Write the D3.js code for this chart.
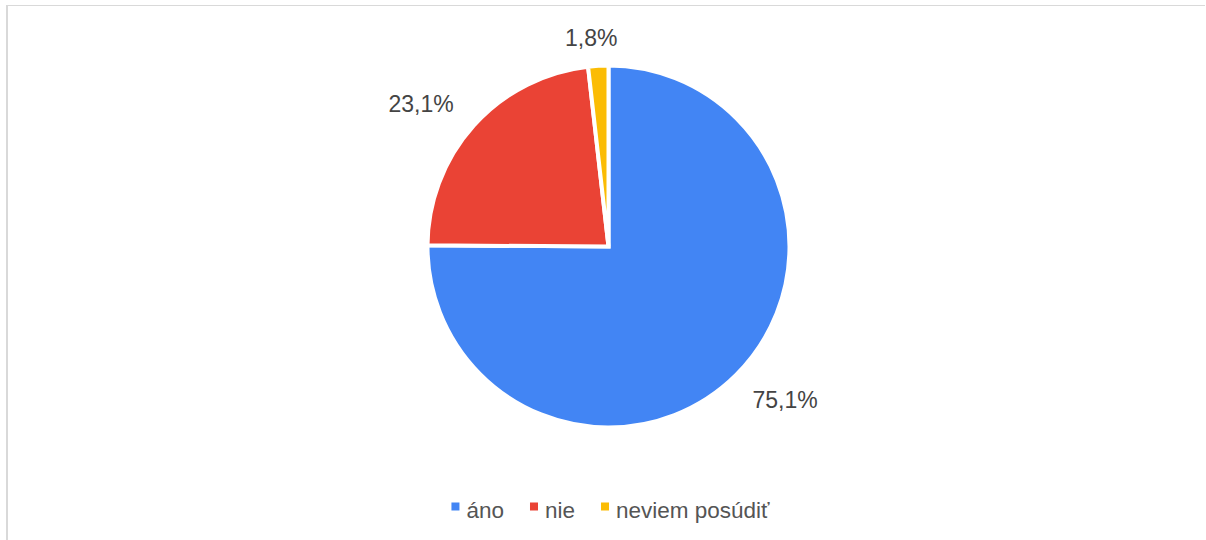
<!DOCTYPE html>
<html>
<head>
<meta charset="utf-8">
<script src="https://cdn.jsdelivr.net/npm/d3@7"></script>
<style>
  body { margin: 0; background: #fff; }
  svg { display: block; font-family: "Liberation Sans", Arial, sans-serif; }
</style>
</head>
<body>
<div id="chart"></div>
<script>
// data
var categories = ["áno", "nie", "neviem posúdiť"];
var values = [75.1, 23.1, 1.8];
var colors = ["#4285F4", "#EA4335", "#FBBC04"];

var width = 1206, height = 540;
var cx = 608.5, cy = 246.5, radius = 181;

var svg = d3.select("#chart").append("svg")
    .attr("width", width)
    .attr("height", height);

// frame lines (top and left only)
svg.append("line")
    .attr("x1", 6).attr("x2", 1205).attr("y1", 5.5).attr("y2", 5.5)
    .attr("stroke", "#d9d9d9").attr("stroke-width", 1);
svg.append("line")
    .attr("x1", 7).attr("x2", 7).attr("y1", 5).attr("y2", height)
    .attr("stroke", "#d9d9d9").attr("stroke-width", 2);

var color = d3.scaleOrdinal().domain(categories).range(colors);

var pie = d3.pie().sort(null).value(function (d) { return d.value; });
var data = categories.map(function (c, i) { return {name: c, value: values[i]}; });
var arcs = pie(data);

var arc = d3.arc().innerRadius(0).outerRadius(radius);

var g = svg.append("g").attr("transform", "translate(" + cx + "," + cy + ")");

g.selectAll("path")
    .data(arcs)
    .enter().append("path")
    .attr("d", arc)
    .attr("fill", function (d) { return color(d.data.name); })
    .attr("stroke", "#fff")
    .attr("stroke-width", 4)
    .attr("stroke-linejoin", "miter");

// percentage labels outside the pie
var fmt = function (v) { return v.toFixed(1).replace(".", ",") + "%"; };
var labelR = radius + 19;

g.selectAll("text.lbl")
    .data(arcs)
    .enter().append("text")
    .attr("class", "lbl")
    .attr("font-size", 23)
    .attr("fill", "#444")
    .each(function (d) {
        var a = (d.startAngle + d.endAngle) / 2;
        var s = Math.sin(a), c = Math.cos(a);
        var x = labelR * s, y = -labelR * c;
        var anchor = s > 0.15 ? "start" : (s < -0.15 ? "end" : "middle");
        x += anchor === "start" ? 3 : -6;
        // bottom half: hang text below point; top half: sit on the point
        var dy = c < 0 ? 20 : -1;
        d3.select(this)
            .attr("x", x)
            .attr("y", y + dy)
            .attr("text-anchor", anchor)
            .text(fmt(d.data.value));
    });

// legend
var legend = svg.append("g");
var sq = 8, gapText = 7, gapItem = 26, legendY = 518;
var items = legend.selectAll("g.item")
    .data(categories)
    .enter().append("g")
    .attr("class", "item");

items.append("rect")
    .attr("width", sq).attr("height", sq)
    .attr("y", legendY - 15.5)
    .attr("fill", function (d) { return color(d); });

items.append("text")
    .attr("y", legendY)
    .attr("font-size", 22.5)
    .attr("fill", "#555")
    .text(function (d) { return d; });

var xPos = 0;
items.each(function () {
    var item = d3.select(this);
    item.select("rect").attr("x", xPos);
    item.select("text").attr("x", xPos + sq + gapText);
    xPos += sq + gapText + item.select("text").node().getComputedTextLength() + gapItem;
});
var legendW = xPos - gapItem;
legend.attr("transform", "translate(" + (610.5 - legendW / 2) + ",0)");
</script>
</body>
</html>
